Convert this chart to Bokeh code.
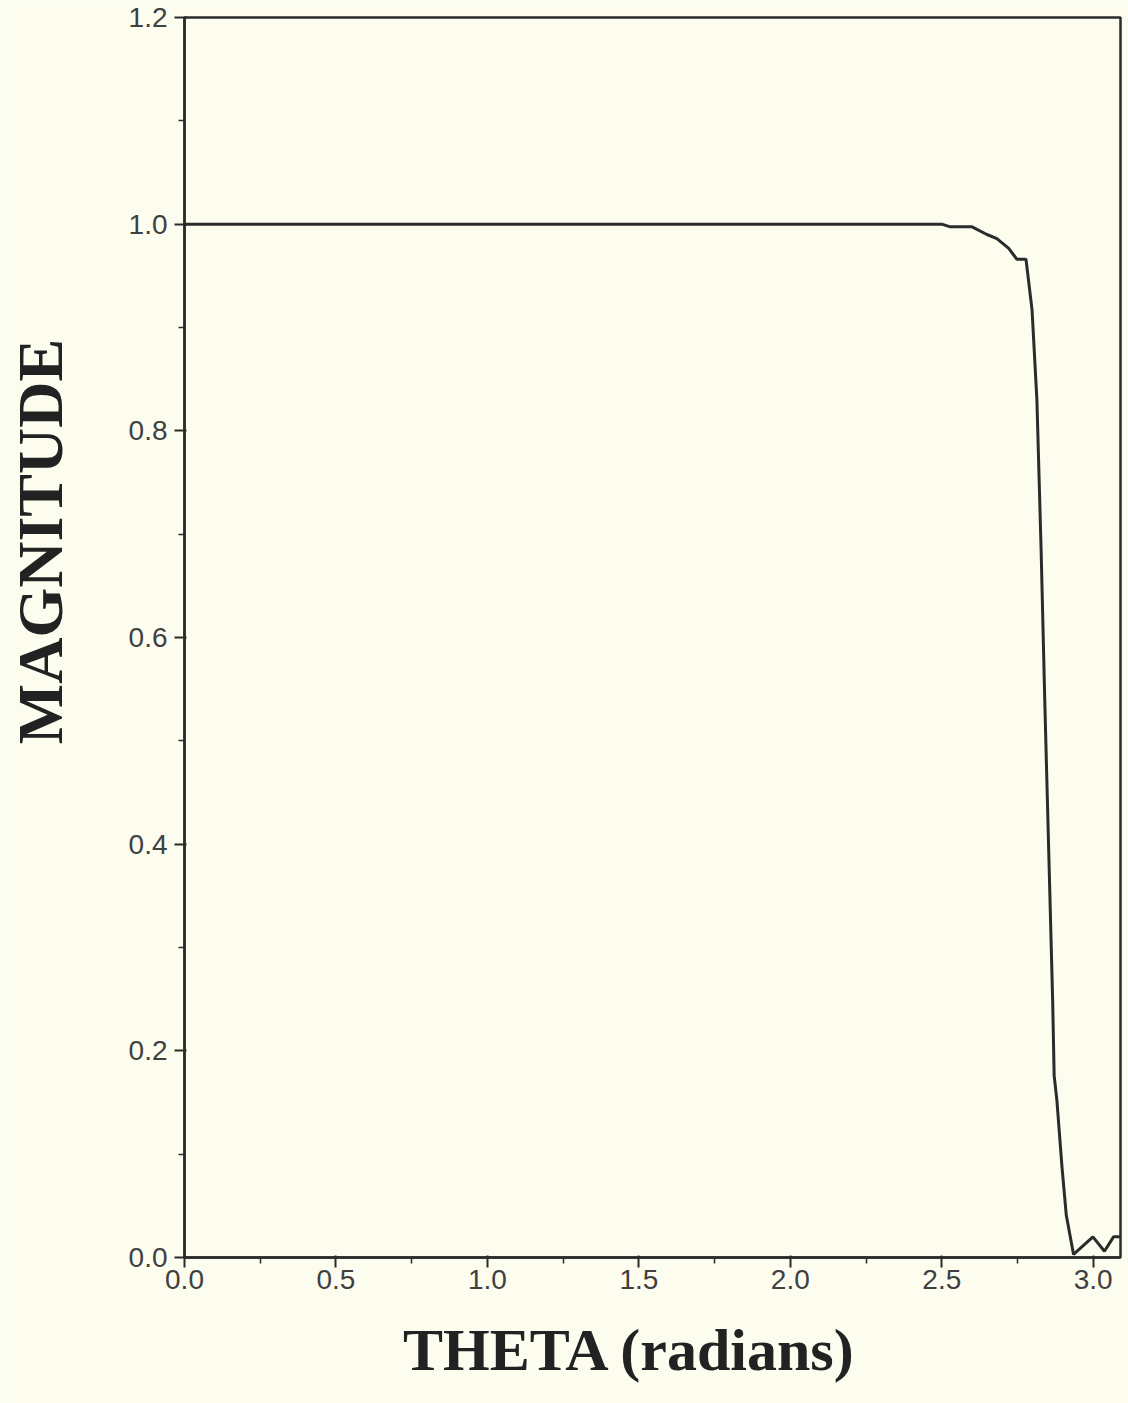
from bokeh.plotting import figure
from bokeh.models import Range1d, FixedTicker, PrintfTickFormatter
from bokeh.embed import file_html
from bokeh.resources import INLINE

# Data
theta = [0.0, 2.50, 2.528, 2.600, 2.649, 2.682, 2.721, 2.748, 2.778, 2.798,
         2.814, 2.828, 2.840, 2.853, 2.866, 2.871, 2.880, 2.897, 2.911, 2.935,
         2.999, 3.037, 3.067, 3.09]
magnitude = [1.0, 1.0, 0.9974, 0.9974, 0.990, 0.986, 0.9765, 0.966, 0.966, 0.917,
             0.830, 0.684, 0.539, 0.394, 0.249, 0.176, 0.152, 0.087, 0.041, 0.003,
             0.020, 0.006, 0.020, 0.020]

x_major = [0.0, 0.5, 1.0, 1.5, 2.0, 2.5, 3.0]
x_minor = [0.25, 0.75, 1.25, 1.75, 2.25, 2.75]
y_major = [0.0, 0.2, 0.4, 0.6, 0.8, 1.0, 1.2]
y_minor = [0.1, 0.3, 0.5, 0.7, 0.9, 1.1]

x_label = "THETA (radians)"
y_label = "MAGNITUDE"

NB = "\u00a0"
BG = "#fcfcef"
INK = "#2b2b2b"

p = figure(width=1128, height=1403, output_backend="svg", toolbar_location=None,
           x_range=Range1d(0, 3.09), y_range=Range1d(0, 1.2),
           min_border_left=184, min_border_right=8, min_border_top=17, min_border_bottom=146)

p.background_fill_color = BG
p.border_fill_color = BG
p.outline_line_color = INK
p.outline_line_width = 2.5
p.grid.visible = False

p.line(theta, magnitude, line_color=INK, line_width=3)

p.xaxis.ticker = FixedTicker(ticks=x_major, minor_ticks=x_minor)
p.yaxis.ticker = FixedTicker(ticks=y_major, minor_ticks=y_minor)
p.xaxis.formatter = PrintfTickFormatter(format="%.1f")
p.yaxis.formatter = PrintfTickFormatter(format="%.1f")

for ax in (p.xaxis, p.yaxis):
    ax.axis_line_color = INK
    ax.axis_line_width = 2.5
    ax.major_tick_line_color = INK
    ax.minor_tick_line_color = INK
    ax.major_tick_line_width = 2
    ax.minor_tick_line_width = 1.5
    ax.major_tick_out = 10
    ax.major_tick_in = 2
    ax.minor_tick_out = 6
    ax.minor_tick_in = 0
    ax.major_label_text_font = "Liberation Sans"
    ax.major_label_text_font_size = "28px"
    ax.major_label_text_color = "#404040"
    ax.axis_label_text_font = "Liberation Serif"
    ax.axis_label_text_font_style = "bold"
    ax.axis_label_text_color = "#222222"

p.xaxis.major_label_standoff = 2
p.yaxis.major_label_standoff = 7

# titles sit off-centre in the reference: pad with non-breaking spaces
p.yaxis.axis_label = NB * 12 + y_label
p.xaxis.axis_label = x_label + NB * 3
p.yaxis.axis_label_text_font_size = "64px"
p.xaxis.axis_label_text_font_size = "60px"
p.yaxis.axis_label_standoff = 50
p.xaxis.axis_label_standoff = 25

open("out.html", "w").write(file_html(p, INLINE))
